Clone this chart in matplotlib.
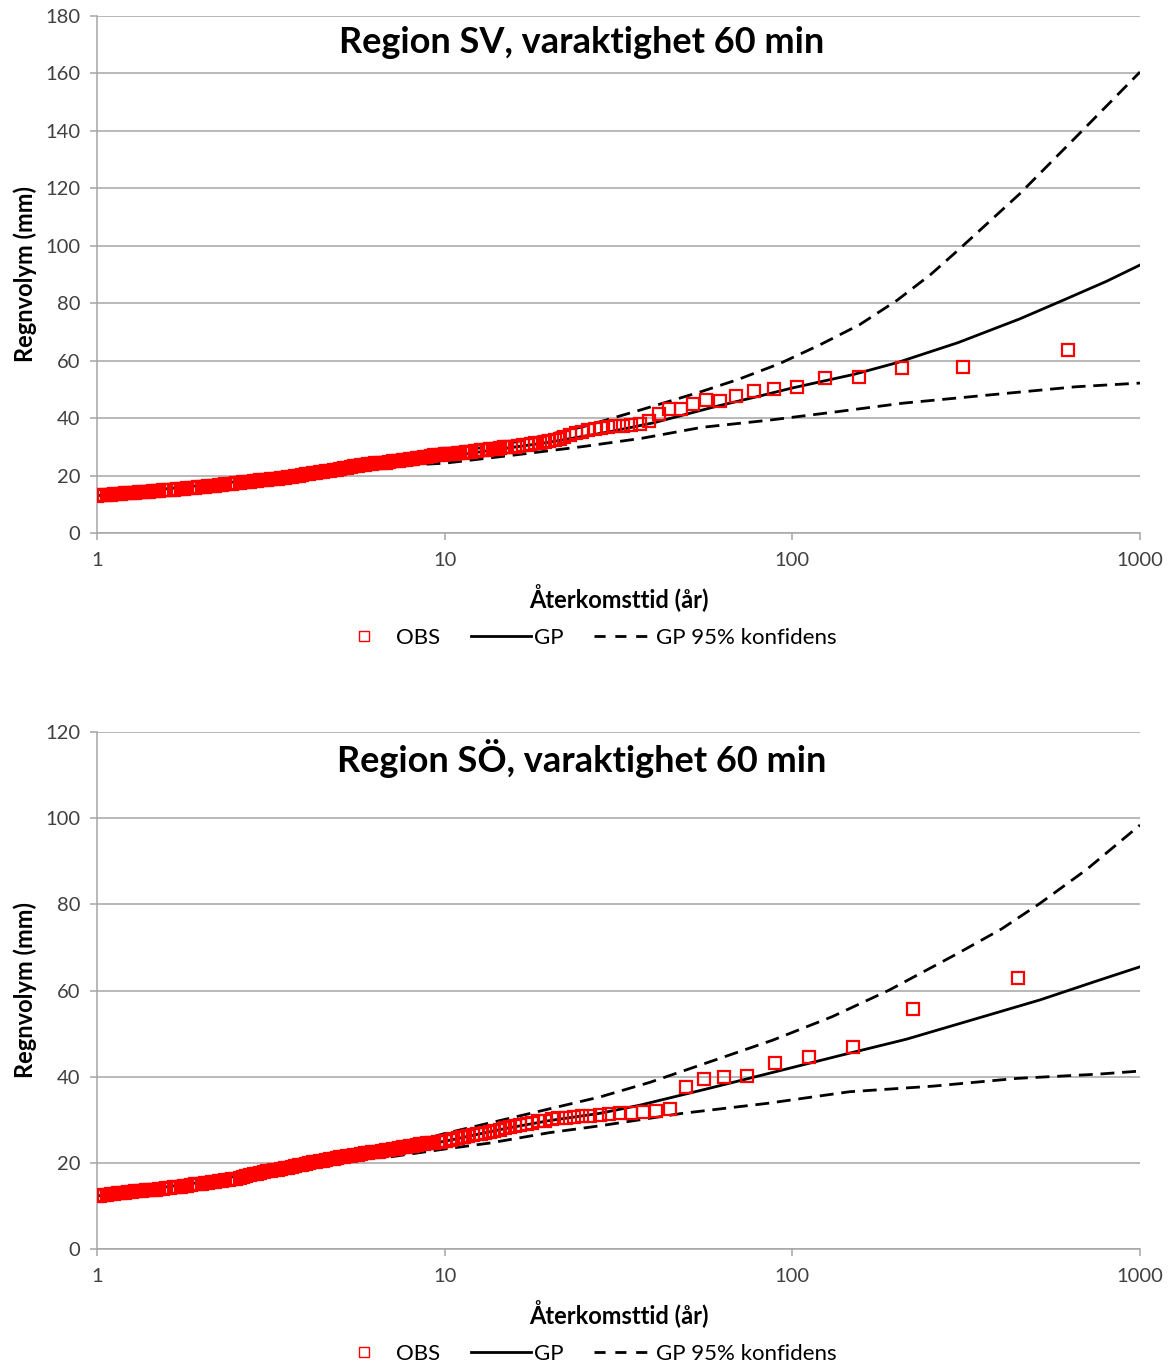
import numpy as np
import matplotlib
matplotlib.use("Agg")
import matplotlib.pyplot as plt
from matplotlib.lines import Line2D

plt.rcParams['font.family'] = ['Lato', 'DejaVu Sans']

# ---- Region SV: observations (return period in years, rain volume in mm)
obs_sv_T = [1.00, 1.02, 1.05, 1.07, 1.10, 1.12, 1.15, 1.17, 1.20, 1.23, 1.26, 1.29, 1.32,
            1.35, 1.38, 1.41, 1.45, 1.48, 1.51, 1.55, 1.58, 1.62, 1.66, 1.70, 1.74, 1.78,
            1.82, 1.86, 1.91, 1.95, 2.00, 2.04, 2.09, 2.14, 2.19, 2.24, 2.29, 2.34, 2.40,
            2.45, 2.51, 2.57, 2.63, 2.69, 2.75, 2.82, 2.88, 2.95, 3.02, 3.09, 3.16, 3.24,
            3.31, 3.39, 3.47, 3.55, 3.63, 3.72, 3.80, 3.89, 3.98, 4.07, 4.17, 4.27, 4.37,
            4.47, 4.57, 4.68, 4.79, 4.90, 5.01, 5.13, 5.25, 5.37, 5.50, 5.62, 5.75, 5.89,
            6.03, 6.17, 6.31, 6.46, 6.61, 6.76, 6.92, 7.08, 7.24, 7.41, 7.59, 7.76, 7.94,
            8.13, 8.32, 8.51, 8.71, 8.91, 9.12, 9.33, 9.55, 9.77, 10.0,
            10.2, 10.3, 10.5, 10.7, 10.9, 11.1, 11.3, 11.5, 11.7, 11.9, 12.2, 12.4, 12.7,
            12.9, 13.2, 13.5, 13.8, 14.1, 14.4, 14.8, 15.1, 15.5, 15.9, 16.3, 16.8, 17.2,
            17.7, 18.2, 18.8, 19.4, 20.0, 20.7, 21.4, 22.1, 23.0, 23.8, 24.8, 25.8, 27.0,
            28.2, 29.5, 31.0, 32.6, 34.4, 36.5, 38.8,
            41.4, 44.3, 47.7, 51.7, 56.4, 62.0, 69.0, 77.6, 88.7, 103, 124, 155, 207, 310, 621]
obs_sv_mm = [13.0, 13.1, 13.2, 13.3, 13.4, 13.5, 13.6, 13.7, 13.8, 13.9, 14.0, 14.1, 14.2,
             14.3, 14.4, 14.4, 14.5, 14.6, 14.7, 14.8, 14.9, 15.0, 15.1, 15.2, 15.3, 15.4,
             15.5, 15.6, 15.8, 15.9, 16.0, 16.1, 16.2, 16.4, 16.5, 16.6, 16.8, 16.9, 17.0,
             17.2, 17.3, 17.5, 17.6, 17.7, 17.9, 18.0, 18.1, 18.3, 18.4, 18.5, 18.7, 18.8,
             18.9, 19.0, 19.2, 19.4, 19.6, 19.8, 20.0, 20.2, 20.4, 20.6, 20.8, 21.0, 21.2,
             21.4, 21.5, 21.7, 21.9, 22.1, 22.3, 22.5, 22.7, 23.0, 23.2, 23.4, 23.6, 23.8,
             23.9, 24.0, 24.2, 24.3, 24.4, 24.5, 24.7, 24.9, 25.0, 25.2, 25.3, 25.5, 25.6,
             25.8, 26.0, 26.2, 26.4, 26.6, 26.9, 27.0, 27.2, 27.3, 27.4,
             27.4, 27.5, 27.5, 27.6, 27.8, 27.8, 27.9, 28.1, 28.2, 28.3, 28.5, 28.6, 28.8,
             28.9, 29.0, 29.2, 29.3, 29.4, 29.6, 29.8, 29.9, 30.0, 30.1, 30.3, 30.5, 30.7,
             31.0, 31.2, 31.4, 31.6, 32.0, 32.4, 32.7, 33.3, 34.1, 34.7, 35.2, 35.7, 36.1,
             36.5, 37.0, 37.2, 37.3, 37.6, 38.0, 39.0,
             41.4, 43.2, 43.2, 44.9, 46.3, 46.0, 47.7, 49.4, 50.1, 50.8, 54.0, 54.3, 57.4, 57.8, 63.7]

# ---- Region SV: GP fit and 95% confidence limits
gp_sv_T = [1, 2, 3, 5, 7, 10, 15, 20, 30, 40, 60, 80, 100, 150, 200, 300, 450, 600, 800, 1000]
gp_sv_mm = [13.0, 16.6, 18.8, 22.3, 24.5, 26.5, 29.5, 31.6, 35.3, 38.4, 44.0, 47.6, 50.5,
            55.2, 59.3, 66.3, 74.5, 81.0, 87.6, 93.3]
hi_sv_T = [5, 7, 10, 15, 20, 25, 31, 36.5, 54, 70, 92, 120, 156, 200, 250, 300, 450, 650, 1000]
hi_sv_mm = [22.6, 25.0, 27.8, 31.0, 34.3, 37.0, 40.3, 42.8, 49.0, 53.5, 59.0, 65.5, 72.5,
            81.0, 90.0, 98.5, 118.0, 137.5, 160.5]
lo_sv_T = [5, 7, 10, 16, 25, 37, 55, 86, 134, 208, 364, 652, 1000]
lo_sv_mm = [22.0, 23.3, 24.3, 27.2, 30.1, 33.0, 36.8, 39.3, 42.2, 45.2, 48.0, 50.9, 52.2]

# ---- Region SÖ: observations
obs_so_T = [1.00, 1.02, 1.05, 1.07, 1.10, 1.12, 1.15, 1.17, 1.20, 1.23, 1.26, 1.29, 1.32,
            1.35, 1.38, 1.41, 1.45, 1.48, 1.51, 1.55, 1.58, 1.62, 1.66, 1.70, 1.74, 1.78,
            1.82, 1.86, 1.91, 1.95, 2.00, 2.04, 2.09, 2.14, 2.19, 2.24, 2.29, 2.34, 2.40,
            2.45, 2.51, 2.57, 2.63, 2.69, 2.75, 2.82, 2.88, 2.95, 3.02, 3.09, 3.16, 3.24,
            3.31, 3.39, 3.47, 3.55, 3.63, 3.72, 3.80, 3.89, 3.98, 4.07, 4.17, 4.27, 4.37,
            4.47, 4.57, 4.68, 4.79, 4.90, 5.01, 5.13, 5.25, 5.37, 5.50, 5.62, 5.75, 5.89,
            6.03, 6.17, 6.31, 6.46, 6.61, 6.76, 6.92, 7.08, 7.24, 7.41, 7.59, 7.76, 7.94,
            8.13, 8.32, 8.51, 8.71, 8.91, 9.12, 9.33, 9.55, 9.77, 10.0,
            10.1, 10.4, 10.6, 10.9, 11.2, 11.4, 11.7, 12.1, 12.4, 12.7, 13.1, 13.5, 13.9,
            14.4, 14.9, 15.4, 15.9, 16.5, 17.2, 17.8, 18.6, 19.4, 20.3, 21.2, 22.3, 23.5,
            24.8, 26.2, 27.9, 29.7, 31.9, 34.3,
            37.2, 40.6, 44.6, 49.6, 55.8, 63.7, 74.3, 89.2, 111.5, 149, 223, 446]
obs_so_mm = [12.3, 12.4, 12.5, 12.6, 12.7, 12.8, 12.9, 13.0, 13.1, 13.2, 13.3, 13.4, 13.5,
             13.5, 13.6, 13.7, 13.8, 13.8, 13.9, 14.0, 14.1, 14.2, 14.3, 14.4, 14.5, 14.6,
             14.7, 14.8, 15.0, 15.1, 15.2, 15.3, 15.4, 15.5, 15.6, 15.7, 15.8, 15.9, 16.0,
             16.2, 16.3, 16.5, 16.7, 16.9, 17.1, 17.3, 17.5, 17.6, 17.8, 18.0, 18.1, 18.3,
             18.4, 18.6, 18.7, 18.9, 19.0, 19.2, 19.4, 19.6, 19.8, 20.0, 20.1, 20.3, 20.4,
             20.5, 20.7, 20.8, 21.0, 21.1, 21.3, 21.4, 21.6, 21.7, 21.8, 21.9, 22.1, 22.2,
             22.3, 22.4, 22.5, 22.6, 22.8, 22.9, 23.0, 23.2, 23.3, 23.4, 23.6, 23.7, 23.9,
             24.0, 24.1, 24.3, 24.4, 24.5, 24.6, 24.7, 24.8, 24.9, 25.0,
             25.1, 25.3, 25.5, 25.8, 26.0, 26.1, 26.3, 26.5, 26.7, 26.8, 27.0, 27.2, 27.5,
             27.7, 28.0, 28.4, 28.6, 28.8, 29.1, 29.3, 29.6, 29.8, 30.1, 30.3, 30.5, 30.7,
             30.8, 30.9, 31.1, 31.3, 31.5, 31.6,
             31.9, 32.0, 32.5, 37.6, 39.5, 40.0, 40.2, 43.2, 44.5, 46.8, 55.7, 63.0]

# ---- Region SÖ: GP fit and 95% confidence limits
gp_so_T = [1, 2, 3, 5, 7, 10, 15, 20, 28, 36.5, 57, 88, 137, 213, 515, 763, 1000]
gp_so_mm = [12.3, 15.5, 18.0, 21.3, 23.0, 25.0, 28.0, 29.8, 31.5, 33.4, 37.2, 41.0, 44.9,
            48.7, 57.8, 62.4, 65.5]
hi_so_T = [7, 10, 14.4, 24.5, 28, 39, 60.6, 88, 130, 190, 299, 400, 515, 700, 1000]
hi_so_mm = [23.3, 26.8, 29.8, 34.2, 35.3, 38.7, 44.0, 48.5, 53.9, 60.1, 68.6, 74.3, 80.2,
            88.0, 98.4]
lo_so_T = [7, 10, 13.5, 20, 28, 48.4, 84.6, 146, 254, 443, 763, 1000]
lo_so_mm = [21.4, 23.2, 24.6, 27.0, 28.6, 31.5, 33.8, 36.5, 37.8, 39.6, 40.6, 41.3]

panels = [
    ("Region SV, varaktighet 60 min", 180, obs_sv_T, obs_sv_mm, gp_sv_T, gp_sv_mm,
     hi_sv_T, hi_sv_mm, lo_sv_T, lo_sv_mm),
    ("Region SÖ, varaktighet 60 min", 120, obs_so_T, obs_so_mm, gp_so_T, gp_so_mm,
     hi_so_T, hi_so_mm, lo_so_T, lo_so_mm),
]

W, H = 1171, 1366
fig = plt.figure(figsize=(W / 100, H / 100), dpi=100)

ax_top = [16, 732]      # pixel top of each plot area
legend_y = [638, 1354]  # pixel centre of each legend
left, right, plot_h = 97, 1140, 517
grid_c = '#a6a6a6'
text_c = '#404040'

for k, (title, ymax, oT, omm, gT, gmm, hT, hmm, lT, lmm) in enumerate(panels):
    ax = fig.add_axes([left / W, 1 - (ax_top[k] + plot_h) / H, (right - left) / W, plot_h / H])
    ax.plot(gT, gmm, color='black', lw=2.0, zorder=2)
    ax.plot(hT, hmm, color='black', lw=2.0, dashes=(5, 2.8), zorder=2)
    ax.plot(lT, lmm, color='black', lw=2.0, dashes=(5, 2.8), zorder=2)
    ax.plot(oT, omm, ls='none', marker='s', ms=8, mfc='none', mec='#ff0000', mew=1.6, zorder=3)

    ax.set_xscale('log')
    ax.set_xlim(1, 1000)
    ax.set_ylim(0, ymax)
    ax.set_yticks(np.arange(0, ymax + 1, 20))
    ax.set_xticks([1, 10, 100, 1000])
    ax.set_xticklabels(['1', '10', '100', '1000'])
    ax.xaxis.set_minor_locator(matplotlib.ticker.NullLocator())
    ax.yaxis.grid(True, color=grid_c, lw=1.1)
    ax.set_axisbelow(True)
    for s in ['top', 'right']:
        ax.spines[s].set_visible(False)
    for s in ['left', 'bottom']:
        ax.spines[s].set_color(grid_c)
        ax.spines[s].set_linewidth(1.1)
    ax.tick_params(axis='both', colors=grid_c, labelcolor=text_c, labelsize=14.5,
                   length=5, width=1.1)
    ax.tick_params(axis='x', pad=9)
    ax.tick_params(axis='y', pad=7)

    ax.text(0.465, 0.948, title, transform=ax.transAxes, ha='center', va='center',
            fontsize=26, fontweight='bold', color='black')
    ax.set_ylabel('Regnvolym (mm)', fontsize=17, fontweight='bold', color='black')
    ax.yaxis.set_label_coords(-0.058, 0.5)
    ax.set_xlabel('Återkomsttid (år)', fontsize=17, fontweight='bold', color='black')
    ax.xaxis.set_label_coords(0.5, -0.098)

    handles = [
        Line2D([], [], ls='none', marker='s', ms=7, mfc='none', mec='#ff0000', mew=1.0),
        Line2D([], [], color='black', lw=2.0),
        Line2D([], [], color='black', lw=2.0, dashes=(4, 3.5)),
    ]
    fig.legend(handles, ['OBS', 'GP', 'GP 95% konfidens'], loc='center',
               bbox_to_anchor=(0.5, 1 - legend_y[k] / H), ncol=3, frameon=False,
               fontsize=16, handlelength=2.7, handletextpad=0.1, columnspacing=1.4,
               labelcolor='black')

fig.savefig('out.png', dpi=100)
